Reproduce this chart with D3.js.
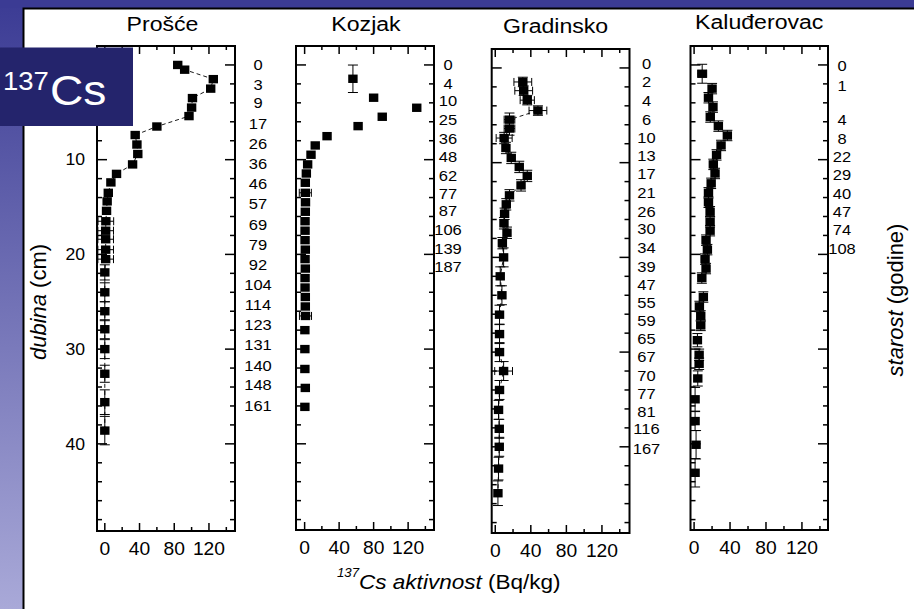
<!DOCTYPE html>
<html>
<head>
<meta charset="utf-8">
<script src="https://cdn.jsdelivr.net/npm/d3@7"></script>
<style>
	body { margin: 0; background: #fff; }
	svg { display: block; }
	text { font-family: "Liberation Sans", Arial, sans-serif; fill: #000; }
</style>
</head>
<body>
<svg id="chart" width="914" height="609"></svg>
<script>
// 137Cs activity (Bq/kg) against depth (cm), four lake cores
var siteNames = ['Prošće', 'Kozjak', 'Gradinsko', 'Kaluđerovac'];

var prosceDepth = [0, 0.5, 1.5, 2.5, 3.5, 4.5, 5.4, 6.5, 7.4, 8.4, 9.4, 10.5, 11.5, 12.4, 13.5, 14.4, 15.4, 16.5, 17.5, 18.4, 19.5, 20.5, 21.9, 24.0, 26.0, 27.9, 30.0, 32.6, 35.6, 38.6];
var prosceActivity = [84, 92, 125, 122, 101, 100, 97, 60, 35, 37, 38, 32, 13.5, 7, 4, 2.7, 2, 1.2, 1, 1, 1, 1, 0, 0, 0, 0, 0, 0, 0, 0];
var prosceDepthErr = [0, 0, 0, 0, 0, 0, 0, 0, 0, 0, 0, 0, 0, 0, 0, 0, 0, 0, 0, 0, 0, 0, 0.8, 1.0, 1.0, 1.0, 1.0, 0.9, 1.3, 1.5];
var prosceActErr = [0, 0, 0, 0, 0, 0, 0, 0, 0, 0, 0, 0, 0, 0, 0, 0, 0, 9, 9, 9, 9, 9, 0, 0, 0, 0, 0, 0, 0, 0];
var prosceAges = ['0', '3', '9', '17', '26', '36', '46', '57', '69', '79', '92', '104', '114', '123', '131', '140', '148', '161'];
var prosceAgeDepth = [0, 2.06, 3.96, 6.18, 8.3, 10.4, 12.5, 14.7, 16.9, 18.95, 21.1, 23.2, 25.3, 27.4, 29.5, 31.7, 33.8, 36.0];

var kozjakDepth = [1.46, 3.46, 4.52, 5.47, 6.46, 7.52, 8.5, 9.48, 10.5, 11.46, 12.44, 13.5, 14.5, 15.5, 16.5, 17.5, 18.5, 19.5, 20.5, 21.5, 22.5, 23.5, 24.5, 25.5, 26.5, 28.0, 30.0, 32.1, 34.1, 36.1];
var kozjakActivity = [56, 80, 130, 90, 62, 26, 12.3, 7.4, 3.5, 2, 0.8, 0.8, 1, 0.8, 0.5, 0.5, 0.5, 0.8, 0.5, 0.8, 0.5, 0.5, 0.8, 0.8, 1, 0.3, 0.3, 0.3, 0.8, 0.3];
var kozjakDepthErr = [1.45, 0, 0, 0, 0, 0, 0, 0, 0, 0, 0, 0, 0, 0, 0, 0, 0, 0, 0, 0, 0, 0, 0, 0, 0, 0, 0, 0, 0, 0];
var kozjakActErr = [0, 0, 0, 0, 0, 0, 0, 0, 0, 0, 0, 7, 0, 0, 0, 0, 0, 0, 0, 0, 0, 0, 0, 0, 7, 0, 0, 0, 0, 0];
var kozjakAges = ['0', '4', '10', '25', '36', '48', '62', '77', '87', '106', '139', '187'];
var kozjakAgeDepth = [0, 1.95, 3.82, 5.83, 7.76, 9.74, 11.67, 13.57, 15.4, 17.4, 19.4, 21.3];

var gradinskoDepth = [1.48, 2.4, 3.4, 4.5, 5.46, 6.4, 7.4, 8.45, 9.5, 10.45, 11.4, 12.4, 13.45, 14.4, 15.4, 16.4, 17.4, 18.5, 20.0, 22.0, 24.0, 26.05, 28.1, 30.0, 32.0, 34.0, 36.1, 38.1, 40.0, 42.3, 44.9];
var gradinskoActivity = [31, 32, 36, 48, 16, 16, 10, 12, 18, 27, 36, 29, 16, 12.4, 10.5, 9.8, 13.2, 8, 9.4, 5.6, 7.5, 4.8, 4.8, 4.8, 9.4, 4.8, 3.7, 4.5, 4.5, 3.7, 3];
var gradinskoDepthErr = [0.5, 0.5, 0.5, 0.5, 0.7, 0.7, 0.6, 0.6, 0.6, 0.6, 0.6, 0.6, 0.6, 0.6, 0.6, 0.6, 0.6, 0.6, 1.0, 1.0, 1.0, 1.0, 1.0, 1.0, 1.0, 1.0, 1.0, 1.0, 1.0, 1.2, 1.3];
var gradinskoActErr = [10, 10, 8, 10, 6, 6, 9, 0, 0, 0, 0, 0, 0, 0, 0, 0, 0, 0, 0, 0, 0, 0, 0, 0, 10, 0, 0, 0, 0, 0, 0];
var gradinskoAges = ['0', '2', '4', '6', '10', '13', '17', '21', '26', '30', '34', '39', '47', '55', '59', '65', '67', '70', '77', '81', '116', '167'];
var gradinskoAgeDepth = [-0.45, 1.45, 3.42, 5.46, 7.36, 9.26, 11.16, 13.17, 15.14, 16.97, 18.98, 20.98, 22.88, 24.75, 26.65, 28.58, 30.49, 32.49, 34.4, 36.3, 38.1, 40.2];

var kaluderovacDepth = [0.93, 2.5, 3.46, 4.45, 5.5, 6.46, 7.45, 8.5, 9.5, 10.5, 11.46, 12.5, 13.5, 14.5, 15.5, 16.56, 17.5, 18.5, 19.5, 20.5, 21.5, 22.5, 24.5, 25.5, 26.5, 27.5, 29.06, 30.6, 31.55, 33.1, 35.3, 37.6, 40.1, 43.06];
var kaluderovacActivity = [9, 20, 16, 21, 18, 27, 37, 30, 25, 21.4, 23.3, 19, 16, 16, 17.8, 17.8, 17.8, 13.3, 14.8, 12.2, 13.3, 8.6, 10.3, 5.9, 7.4, 7.4, 3.7, 5.6, 5.6, 4.1, 1.1, 1.1, 2.2, 1.1];
var kaluderovacDepthErr = [1.0, 0.55, 0.55, 0.55, 0.55, 0.55, 0.55, 0.55, 0.55, 0.55, 0.55, 0.55, 0.55, 0.55, 0.55, 0.55, 0.55, 0.55, 0.55, 0.55, 0.55, 0.55, 0.55, 0.55, 0.55, 0.55, 0.7, 0.6, 0.6, 0.8, 1.25, 1.0, 1.5, 1.5];
var kaluderovacActErr = [5, 0, 0, 0, 0, 0, 0, 0, 0, 0, 0, 0, 0, 0, 0, 0, 0, 0, 0, 0, 0, 0, 0, 0, 0, 0, 0, 0, 0, 0, 0, 0, 0, 0];
var kaluderovacAges = ['0', '1', '4', '8', '22', '29', '40', '47', '74', '108'];
var kaluderovacAgeDepth = [0.13, 2.16, 5.75, 7.76, 9.74, 11.6, 13.57, 15.5, 17.4, 19.4];

var xTickValues = [0, 40, 80, 120];
// the 0 label sits under the 137Cs badge in the slide
var yTickValues = [10, 20, 30, 40];

// text in the slide is a little wider than plain Arial
function stretch(x, y) {
	return 'translate(' + x + ',' + y + ') scale(1.1,1)';
}

function main() {
	var svg = d3.select('#chart');

	var panels = [
		{name: siteNames[0], depth: prosceDepth, act: prosceActivity, de: prosceDepthErr, ae: prosceActErr,
			ages: prosceAges, ageDepth: prosceAgeDepth, left: 97, right: 235, top: 46, bottom: 531,
			xDom: [-9, 150], yDom: [-2, 49.2], ageDx: 23, titleDx: -3.5, titleY: 31, line: true, yLabels: true},
		{name: siteNames[1], depth: kozjakDepth, act: kozjakActivity, de: kozjakDepthErr, ae: kozjakActErr,
			ages: kozjakAges, ageDepth: kozjakAgeDepth, left: 296, right: 434, top: 46, bottom: 530,
			xDom: [-10, 150], yDom: [-2, 49.1], ageDx: 14, titleDx: 1, titleY: 31, line: false},
		{name: siteNames[2], depth: gradinskoDepth, act: gradinskoActivity, de: gradinskoDepthErr, ae: gradinskoActErr,
			ages: gradinskoAges, ageDepth: gradinskoAgeDepth, left: 491.7, right: 629.5, top: 49, bottom: 533,
			xDom: [-4, 151], yDom: [-2, 49.1], ageDx: 17, titleDx: -5, titleY: 32.5, line: true},
		{name: siteNames[3], depth: kaluderovacDepth, act: kaluderovacActivity, de: kaluderovacDepthErr, ae: kaluderovacActErr,
			ages: kaluderovacAges, ageDepth: kaluderovacAgeDepth, left: 690.5, right: 828, top: 46, bottom: 530,
			xDom: [-4, 149], yDom: [-2, 49.1], ageDx: 14, titleDx: 0, titleY: 28.5, line: false}
	];

	// slide background
	var grad = svg.append('defs').append('linearGradient')
		.attr('id', 'side').attr('x1', 0).attr('y1', 0).attr('x2', 0).attr('y2', 1);
	grad.append('stop').attr('offset', '0%').attr('stop-color', '#3b3b94');
	grad.append('stop').attr('offset', '100%').attr('stop-color', '#a9a9d8');
	svg.append('rect').attr('width', 914).attr('height', 609).attr('fill', '#fff');
	svg.append('rect').attr('width', 23).attr('height', 609).attr('fill', 'url(#side)');
	svg.append('rect').attr('width', 914).attr('height', 8).attr('fill', '#3b3b94');
	svg.append('path').attr('d', 'M23.5,609V8.5H914')
		.attr('fill', 'none').attr('stroke', '#000').attr('stroke-width', 2);

	panels.forEach(function(p) {
		var x = d3.scaleLinear().domain(p.xDom).range([p.left, p.right]);
		var y = d3.scaleLinear().domain(p.yDom).range([p.top, p.bottom]);
		var g = svg.append('g');

		var pts = p.depth.map(function(d, i) {
			return {d: d, a: p.act[i], de: p.de[i], ae: p.ae[i]};
		});

		// ticks, pointing inwards on all four sides
		var yt = d3.range(0, 49, 2);
		var xt = d3.range(0, 141, 20);
		g.selectAll('.yl').data(yt).enter().append('line')
			.attr('x1', p.left).attr('x2', function(d) { return p.left + (d % 10 === 0 ? 10 : 5); })
			.attr('y1', function(d) { return y(d); }).attr('y2', function(d) { return y(d); });
		g.selectAll('.yr').data(yt).enter().append('line')
			.attr('x1', p.right).attr('x2', function(d) { return p.right - (d % 10 === 0 ? 10 : 5); })
			.attr('y1', function(d) { return y(d); }).attr('y2', function(d) { return y(d); });
		g.selectAll('.xb').data(xt).enter().append('line')
			.attr('x1', function(d) { return x(d); }).attr('x2', function(d) { return x(d); })
			.attr('y1', p.bottom).attr('y2', function(d) { return p.bottom - (d % 40 === 0 ? 8 : 4); });
		g.selectAll('.xt').data(xt).enter().append('line')
			.attr('x1', function(d) { return x(d); }).attr('x2', function(d) { return x(d); })
			.attr('y1', p.top).attr('y2', function(d) { return p.top + (d % 40 === 0 ? 8 : 4); });
		g.selectAll('line').attr('stroke', '#000').attr('stroke-width', 1.5);

		g.append('rect')
			.attr('x', p.left).attr('y', p.top)
			.attr('width', p.right - p.left).attr('height', p.bottom - p.top)
			.attr('fill', 'none').attr('stroke', '#000').attr('stroke-width', 2);

		// error bars
		var eb = g.append('g').attr('stroke', '#000').attr('stroke-width', 1).attr('fill', 'none');
		pts.forEach(function(o) {
			var cx = x(o.a), cy = y(o.d);
			if (o.de > 0) {
				var y1 = y(o.d - o.de), y2 = y(o.d + o.de);
				eb.append('path').attr('d', 'M' + cx + ',' + y1 + 'V' + y2
					+ 'M' + (cx - 5) + ',' + y1 + 'H' + (cx + 5)
					+ 'M' + (cx - 5) + ',' + y2 + 'H' + (cx + 5));
			}
			if (o.ae > 0) {
				var x1 = x(o.a - o.ae), x2 = x(o.a + o.ae);
				eb.append('path').attr('d', 'M' + x1 + ',' + cy + 'H' + x2
					+ 'M' + x1 + ',' + (cy - 4) + 'V' + (cy + 4)
					+ 'M' + x2 + ',' + (cy - 4) + 'V' + (cy + 4));
			}
		});

		if (p.line) {
			g.append('path')
				.datum(pts)
				.attr('d', d3.line().x(function(o) { return x(o.a); }).y(function(o) { return y(o.d); }))
				.attr('fill', 'none').attr('stroke', '#000').attr('stroke-width', 0.9)
				.attr('stroke-dasharray', '4,3');
		}

		g.selectAll('.pt').data(pts).enter().append('rect')
			.attr('x', function(o) { return x(o.a) - 4.7; })
			.attr('y', function(o) { return y(o.d) - 4.2; })
			.attr('width', 9.4).attr('height', 8.4)
			.attr('fill', '#000');

		// bottom tick labels
		g.selectAll('.xlab').data(xTickValues).enter().append('text')
			.attr('transform', function(d) { return stretch(x(d), p.bottom + 24); })
			.attr('text-anchor', 'middle')
			.style('font-size', '17.5px')
			.text(function(d) { return d; });

		if (p.yLabels) {
			g.selectAll('.ylab').data(yTickValues).enter().append('text')
				.attr('transform', function(d) { return stretch(85, y(d) + 5.7); })
				.attr('text-anchor', 'end')
				.style('font-size', '16px')
				.text(function(d) { return d; });
		}

		// age labels beside the right axis
		g.selectAll('.age').data(p.ages).enter().append('text')
			.attr('transform', function(d, i) { return stretch(p.right + p.ageDx, y(p.ageDepth[i]) + 5.3); })
			.attr('text-anchor', 'middle')
			.style('font-size', '15px')
			.text(function(d) { return d; });

		g.append('text')
			.attr('transform', stretch((p.left + p.right) / 2 + p.titleDx, p.titleY))
			.attr('text-anchor', 'middle')
			.style('font-size', '21px')
			.text(p.name);
	});

	// axis titles
	var xt = svg.append('text')
		.attr('transform', stretch(337, 589))
		.style('font-size', '20.5px');
	xt.append('tspan').attr('font-style', 'italic').style('font-size', '12px').attr('dy', -12).text('137');
	xt.append('tspan').attr('font-style', 'italic').attr('dy', 12).text('Cs aktivnost');
	xt.append('tspan').text(' (Bq/kg)');

	var yl = svg.append('text')
		.attr('transform', 'translate(46,302) rotate(-90)')
		.attr('text-anchor', 'middle')
		.style('font-size', '22px');
	yl.append('tspan').attr('font-style', 'italic').text('dubina');
	yl.append('tspan').text(' (cm)');

	var yr = svg.append('text')
		.attr('transform', 'translate(903,300) rotate(-90)')
		.attr('text-anchor', 'middle')
		.style('font-size', '22px');
	yr.append('tspan').attr('font-style', 'italic').text('starost');
	yr.append('tspan').text(' (godine)');

	// isotope badge over the first panel
	svg.append('rect').attr('x', 0).attr('y', 47.5).attr('width', 133).attr('height', 78.5).attr('fill', '#24246c');
	svg.append('text').attr('transform', stretch(3, 90)).style('font-size', '25px').style('fill', '#fff').text('137');
	svg.append('text').attr('transform', stretch(50, 105)).style('font-size', '42px').style('fill', '#fff').text('Cs');
}

main();
</script>
</body>
</html>
